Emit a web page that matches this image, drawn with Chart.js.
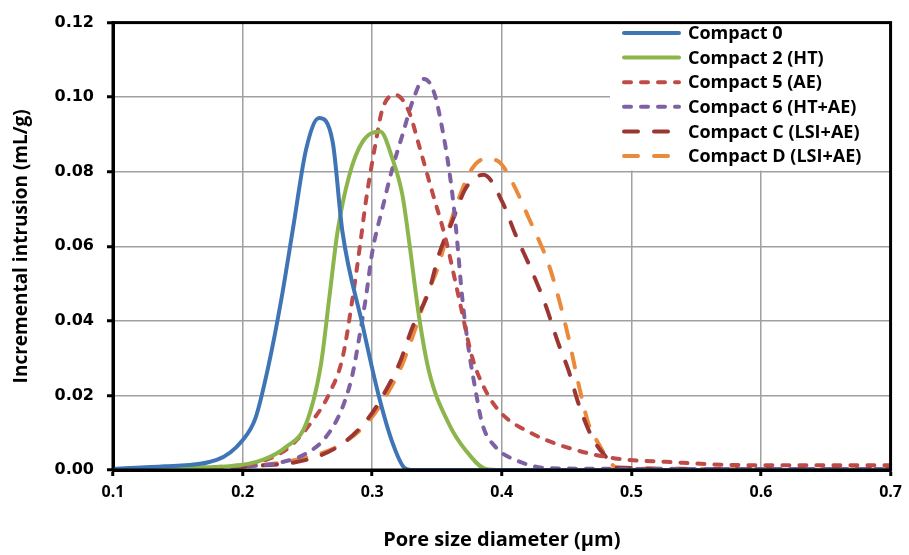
<!DOCTYPE html>
<html>
<head>
<meta charset="utf-8">
<script src="https://cdn.jsdelivr.net/npm/chart.js@4.4.0/dist/chart.umd.min.js"></script>
<style>
  html, body { margin: 0; padding: 0; background: #fff; }
  canvas { display: block; }
</style>
</head>
<body>
<canvas id="grafico" width="909" height="555"></canvas>
<script>
// pore size (um) and incremental intrusion (mL/g)
const compact0X = [0.10, 0.14, 0.18, 0.20, 0.21, 0.22, 0.23, 0.239, 0.249, 0.259, 0.2695, 0.277, 0.2925, 0.305, 0.316, 0.325, 0.33, 0.40, 0.50, 0.60, 0.70];
const compact0Y = [0.0003, 0.001, 0.0027, 0.008, 0.014, 0.028, 0.046, 0.065, 0.086, 0.0944, 0.088, 0.064, 0.039, 0.020, 0.007, 0.0005, 0, 0, 0, 0, 0];

const compact2X = [0.10, 0.19, 0.2156, 0.2336, 0.249, 0.2605, 0.2669, 0.2733, 0.2823, 0.2925, 0.3062, 0.3156, 0.3233, 0.3285, 0.3362, 0.3438, 0.3592, 0.3721, 0.3875, 0.40, 0.50, 0.60, 0.70];
const compact2Y = [0.0002, 0.001, 0.0027, 0.0062, 0.0124, 0.0284, 0.0462, 0.064, 0.079, 0.088, 0.0908, 0.0835, 0.0738, 0.0613, 0.041, 0.0265, 0.0124, 0.0053, 0.0003, 0, 0, 0, 0];

const compact5X = [0.10, 0.20, 0.2182, 0.2362, 0.2541, 0.2669, 0.2772, 0.2849, 0.2913, 0.2951, 0.3028, 0.308, 0.3182, 0.3285, 0.3362, 0.3464, 0.3567, 0.3669, 0.3772, 0.3875, 0.40, 0.4233, 0.449, 0.4875, 0.5259, 0.59, 0.70];
const compact5Y = [0.0002, 0.0013, 0.0027, 0.0062, 0.0133, 0.0205, 0.0302, 0.0462, 0.062, 0.072, 0.088, 0.0969, 0.1006, 0.096, 0.087, 0.0745, 0.062, 0.0462, 0.0302, 0.0213, 0.0151, 0.0098, 0.0062, 0.0031, 0.0022, 0.0013, 0.0013];

const compact6X = [0.10, 0.20, 0.2259, 0.249, 0.2644, 0.2772, 0.2849, 0.29, 0.2951, 0.3002, 0.3079, 0.3156, 0.3233, 0.331, 0.34, 0.3477, 0.3541, 0.3592, 0.3631, 0.3656, 0.3695, 0.3746, 0.3798, 0.3849, 0.3951, 0.4105, 0.4362, 0.50, 0.60, 0.70];
const compact6Y = [0.0002, 0.0009, 0.0018, 0.0044, 0.0089, 0.0169, 0.0258, 0.0355, 0.0462, 0.0587, 0.0702, 0.0809, 0.0898, 0.0987, 0.1049, 0.1013, 0.0915, 0.0809, 0.0702, 0.0613, 0.0462, 0.032, 0.0213, 0.0124, 0.0062, 0.0027, 0.0005, 0.0003, 0.0003, 0.0003];

const compactCX = [0.10, 0.20, 0.249, 0.2772, 0.2977, 0.3105, 0.3208, 0.331, 0.3438, 0.3515, 0.3618, 0.3721, 0.386, 0.4003, 0.4105, 0.4233, 0.4336, 0.4438, 0.4515, 0.4592, 0.4695, 0.4823, 0.4875, 0.55, 0.70];
const compactCY = [0.0002, 0.001, 0.0027, 0.0071, 0.0142, 0.0213, 0.0284, 0.0382, 0.048, 0.0578, 0.0667, 0.0755, 0.0792, 0.072, 0.0632, 0.0533, 0.0444, 0.0338, 0.0267, 0.0178, 0.0089, 0.0027, 0.0007, 0.0003, 0.0003];

const compactDX = [0.10, 0.20, 0.2515, 0.2772, 0.2977, 0.3131, 0.3233, 0.3336, 0.3413, 0.3515, 0.3592, 0.3669, 0.3772, 0.3875, 0.3977, 0.4079, 0.4208, 0.4362, 0.4438, 0.4515, 0.4592, 0.4669, 0.4746, 0.4823, 0.49, 0.55, 0.70];
const compactDY = [0.0002, 0.0009, 0.0036, 0.0071, 0.0133, 0.0213, 0.0284, 0.0382, 0.0462, 0.0551, 0.0649, 0.0729, 0.0809, 0.0835, 0.0827, 0.0773, 0.0676, 0.0551, 0.0462, 0.0355, 0.0231, 0.0124, 0.0071, 0.0027, 0.0004, 0.0003, 0.0003];

const seriesNames = ['Compact 0', 'Compact 2 (HT)', 'Compact 5 (AE)', 'Compact 6 (HT+AE)', 'Compact C (LSI+AE)', 'Compact D (LSI+AE)'];

const COLORS = {
    blue: '#3f75b5',
    green: '#8cb64c',
    red: '#bf4b48',
    purple: '#7e61a2',
    darkRed: '#9c3633',
    orange: '#ec8a3c'
};

const SHORT_DASH = [7, 10];
const LONG_DASH = [14, 16];

function pares(xs, ys) {
    return xs.map((x, i) => ({ x: x, y: ys[i] }));
}

function serie(nombre, xs, ys, color, dash) {
    return {
        label: nombre,
        data: pares(xs, ys),
        borderColor: color,
        backgroundColor: color,
        borderWidth: 4,
        borderDash: dash,
        borderCapStyle: 'round',
        pointRadius: 0,
        cubicInterpolationMode: 'monotone',
        fill: false
    };
}

// legend inside the plot, over a white box like the original
const leyendaPlugin = {
    id: 'leyenda',
    afterDatasetsDraw(chart) {
        const ctx = chart.ctx;
        const area = chart.chartArea;
        ctx.save();
        ctx.fillStyle = '#fff';
        ctx.fillRect(610, area.top, area.right - 610, 148);
        ctx.font = 'bold 18px "Open Sans"';
        ctx.textBaseline = 'middle';
        ctx.textAlign = 'left';
        chart.data.datasets.forEach((ds, i) => {
            const y = 33 + i * 24.6;
            ctx.strokeStyle = ds.borderColor;
            ctx.lineWidth = 4;
            ctx.setLineDash(ds.borderDash || []);
            ctx.lineCap = 'round';
            ctx.beginPath();
            ctx.moveTo(624, y);
            ctx.lineTo(679, y);
            ctx.stroke();
            ctx.setLineDash([]);
            ctx.fillStyle = '#000';
            ctx.fillText(ds.label, 688, y + 1);
        });
        ctx.restore();
    },
    afterDraw(chart) {
        const ctx = chart.ctx;
        const a = chart.chartArea;
        ctx.save();
        ctx.strokeStyle = '#000';
        ctx.lineWidth = 3;
        ctx.strokeRect(a.left, a.top, a.right - a.left, a.bottom - a.top);
        ctx.restore();
    }
};

const ctx = document.getElementById('grafico').getContext('2d');
const grafico = new Chart(ctx, {
    type: 'line',
    data: {
        datasets: [
            serie(seriesNames[0], compact0X, compact0Y, COLORS.blue, []),
            serie(seriesNames[1], compact2X, compact2Y, COLORS.green, []),
            serie(seriesNames[2], compact5X, compact5Y, COLORS.red, SHORT_DASH),
            serie(seriesNames[3], compact6X, compact6Y, COLORS.purple, SHORT_DASH),
            serie(seriesNames[4], compactCX, compactCY, COLORS.darkRed, LONG_DASH),
            serie(seriesNames[5], compactDX, compactDY, COLORS.orange, LONG_DASH)
        ]
    },
    options: {
        responsive: false,
        animation: false,
        layout: { padding: { top: 20, right: 17, left: 0, bottom: 0 } },
        plugins: {
            legend: { display: false },
            tooltip: { enabled: false }
        },
        scales: {
            x: {
                type: 'linear',
                min: 0.1,
                max: 0.7,
                ticks: {
                    stepSize: 0.1,
                    color: '#000',
                    padding: 7,
                    font: { family: 'Open Sans', weight: 'bold', size: 16 },
                    callback: v => v.toFixed(1)
                },
                grid: { color: '#a0a0a0', lineWidth: 1.5, tickLength: 6, tickColor: '#000', tickWidth: 3 },
                border: { color: '#000', width: 3 },
                title: {
                    display: true,
                    text: 'Pore size diameter (\u00b5m)',
                    color: '#000',
                    font: { family: 'Open Sans', weight: 'bold', size: 20 },
                    padding: { top: 0, bottom: 3 }
                },
                afterFit: s => { s.height = 85; }
            },
            y: {
                min: 0,
                max: 0.12,
                ticks: {
                    stepSize: 0.02,
                    color: '#000',
                    padding: 13,
                    font: { family: 'DejaVu Sans', weight: 'bold', size: 16 },
                    callback: v => v.toFixed(2)
                },
                grid: { color: '#a0a0a0', lineWidth: 1.5, tickLength: 6, tickColor: '#000', tickWidth: 3 },
                border: { color: '#000', width: 3 },
                title: {
                    display: true,
                    text: 'Incremental intrusion (mL/g)',
                    color: '#000',
                    font: { family: 'Open Sans', weight: 'bold', size: 19 },
                    padding: { top: 10, bottom: 0 }
                },
                afterFit: s => { s.width = 113; }
            }
        }
    },
    plugins: [leyendaPlugin]
});
</script>
</body>
</html>
